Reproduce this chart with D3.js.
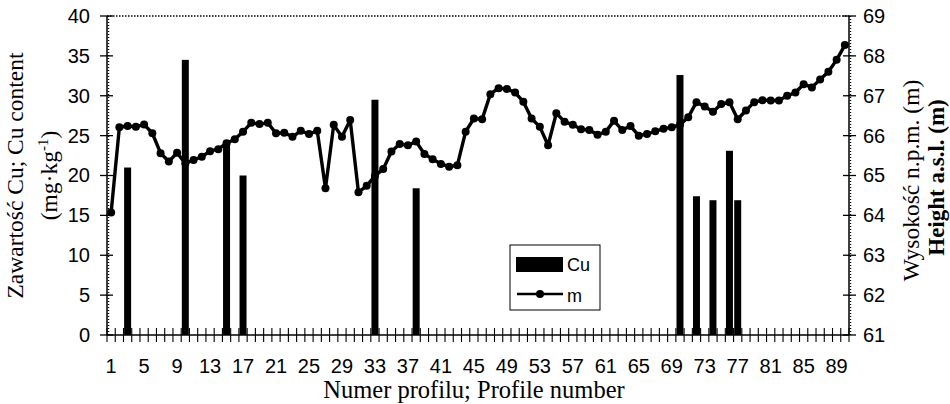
<!DOCTYPE html>
<html>
<head>
<meta charset="utf-8">
<script src="https://cdn.jsdelivr.net/npm/d3@7"></script>
<style>
  html, body { margin: 0; padding: 0; background: #fff; }
  svg { display: block; }
</style>
</head>
<body>
<svg id="chart" width="950" height="404"></svg>
<script>
// ---- DATA ----
const profiles = [1,2,3,4,5,6,7,8,9,10,11,12,13,14,15,16,17,18,19,20,21,22,23,24,25,26,27,28,29,30,
  31,32,33,34,35,36,37,38,39,40,41,42,43,44,45,46,47,48,49,50,51,52,53,54,55,56,57,58,59,60,
  61,62,63,64,65,66,67,68,69,70,71,72,73,74,75,76,77,78,79,80,81,82,83,84,85,86,87,88,89,90];
const xTickLabels = [1,5,9,13,17,21,25,29,33,37,41,45,49,53,57,61,65,69,73,77,81,85,89];
const cuProfiles = [3,10,15,17,33,38,70,72,74,76,77];
const cuValues   = [21.0,34.5,24.3,20.0,29.5,18.4,32.6,17.4,16.9,23.1,16.9];
const heightValues = [
  64.07,66.21,66.24,66.22,66.28,66.06,65.56,65.35,65.57,65.30,
  65.39,65.47,65.61,65.66,65.81,65.91,66.10,66.32,66.29,66.32,
  66.06,66.07,65.97,66.12,66.04,66.12,64.68,66.27,65.97,66.39,
  64.58,64.74,64.99,65.16,65.60,65.79,65.76,65.85,65.54,65.41,
  65.29,65.22,65.26,66.10,66.43,66.41,67.04,67.19,67.17,67.08,
  66.85,66.43,66.22,65.76,66.56,66.35,66.27,66.16,66.14,66.02,
  66.10,66.37,66.14,66.24,66.00,66.04,66.11,66.17,66.21,66.27,
  66.46,66.84,66.73,66.60,66.79,66.84,66.41,66.63,66.84,66.89,
  66.88,66.88,67.00,67.08,67.29,67.21,67.41,67.60,67.90,68.27];
const leftTicks = [0,5,10,15,20,25,30,35,40];
const rightTicks = [61,62,63,64,65,66,67,68,69];

// ---- LAYOUT ----
const X0 = 107, X1 = 849, YT = 16, YB = 335;
const svg = d3.select("#chart");
const x = d3.scaleBand().domain(profiles).range([X0, X1]);
const yL = d3.scaleLinear().domain([0, 40]).range([YB, YT]);
const yR = d3.scaleLinear().domain([61, 69]).range([YB, YT]);
const sans = "'Liberation Sans', Arial, sans-serif";
const serif = "'Liberation Serif', 'Times New Roman', serif";

// top dotted border
svg.append("line").attr("x1", X0).attr("x2", X1).attr("y1", YT).attr("y2", YT)
  .attr("stroke", "#000").attr("stroke-width", 1.4).attr("stroke-dasharray", "1.5,1.5");

// bars
const barW = 7;
svg.append("g").selectAll("rect").data(cuProfiles).join("rect")
  .attr("x", (d) => x(d) + x.bandwidth() / 2 - barW / 2)
  .attr("width", barW)
  .attr("y", (d, i) => yL(cuValues[i]))
  .attr("height", (d, i) => yL(0) - yL(cuValues[i]))
  .attr("fill", "#000");

// left axis
const gL = svg.append("g").attr("transform", `translate(${X0},0)`)
  .call(d3.axisLeft(yL).tickValues(leftTicks).tickSize(0).tickPadding(17).tickFormat(d3.format("d")));
gL.select(".domain").remove();
gL.selectAll("text").attr("font-family", sans).attr("font-size", 20).attr("fill", "#000");
svg.append("line").attr("x1", X0).attr("x2", X0).attr("y1", YT).attr("y2", YB).attr("stroke", "#000").attr("stroke-width", 1.5);
svg.append("line").attr("x1", X0 + 1.5).attr("x2", X0 + 1.5).attr("y1", YT).attr("y2", YB)
  .attr("stroke", "#000").attr("stroke-width", 1.5).attr("stroke-dasharray", "1,2");
svg.append("g").selectAll("line").data(leftTicks).join("line")
  .attr("x1", X0 - 7).attr("x2", X0 + 6).attr("y1", d => yL(d)).attr("y2", d => yL(d))
  .attr("stroke", "#000").attr("stroke-width", 1.3);

// right axis
const gR = svg.append("g").attr("transform", `translate(${X1},0)`)
  .call(d3.axisRight(yR).tickValues(rightTicks).tickSize(0).tickPadding(14).tickFormat(d3.format("d")));
gR.select(".domain").remove();
gR.selectAll("text").attr("font-family", sans).attr("font-size", 20).attr("fill", "#000");
svg.append("line").attr("x1", X1).attr("x2", X1).attr("y1", YT).attr("y2", YB).attr("stroke", "#000").attr("stroke-width", 1.5);
svg.append("line").attr("x1", X1 + 1.5).attr("x2", X1 + 1.5).attr("y1", YT).attr("y2", YB)
  .attr("stroke", "#000").attr("stroke-width", 1.5).attr("stroke-dasharray", "1,2");
svg.append("g").selectAll("line").data(rightTicks).join("line")
  .attr("x1", X1 - 6).attr("x2", X1 + 7).attr("y1", d => yR(d)).attr("y2", d => yR(d))
  .attr("stroke", "#000").attr("stroke-width", 1.3);

// bottom axis
svg.append("line").attr("x1", X0).attr("x2", X1).attr("y1", YB).attr("y2", YB).attr("stroke", "#000").attr("stroke-width", 1.6);
const boundaries = profiles.map(p => x(p)).concat([X1]);
svg.append("g").selectAll("line").data(boundaries).join("line")
  .attr("x1", d => d).attr("x2", d => d).attr("y1", YB - 7).attr("y2", YB + 7)
  .attr("stroke", "#000").attr("stroke-width", 1.1);
svg.append("g").selectAll("text").data(xTickLabels).join("text")
  .attr("x", d => x(d) + x.bandwidth() / 2).attr("y", 373)
  .attr("text-anchor", "middle").attr("font-family", sans).attr("font-size", 20).attr("fill", "#000")
  .text(d => d);

// line m
const line = d3.line().x((d, i) => x(profiles[i]) + x.bandwidth() / 2).y(d => yR(d));
svg.append("path").datum(heightValues).attr("d", line)
  .attr("fill", "none").attr("stroke", "#000").attr("stroke-width", 3.4).attr("stroke-linejoin", "round");
svg.append("g").selectAll("circle").data(heightValues).join("circle")
  .attr("cx", (d, i) => x(profiles[i]) + x.bandwidth() / 2).attr("cy", d => yR(d)).attr("r", 4).attr("fill", "#000");

// axis titles
svg.append("text").attr("transform", `translate(23,${(YT + YB) / 2}) rotate(-90)`)
  .attr("text-anchor", "middle").attr("font-family", serif).attr("font-size", 23.5).attr("fill", "#000")
  .text("Zawartość Cu; Cu content");
const t2 = svg.append("text").attr("transform", `translate(57,${(YT + YB) / 2}) rotate(-90)`)
  .attr("text-anchor", "middle").attr("font-family", serif).attr("font-size", 23.5).attr("fill", "#000");
t2.append("tspan").text("(mg·kg");
t2.append("tspan").attr("font-size", 15).attr("dy", -9).text("-1");
t2.append("tspan").attr("dy", 9).text(")");

svg.append("text").attr("transform", `translate(919,${(YT + YB) / 2 + 5}) rotate(-90)`)
  .attr("text-anchor", "middle").attr("font-family", serif).attr("font-size", 23.5).attr("fill", "#000")
  .text("Wysokość n.p.m. (m)");
svg.append("text").attr("transform", `translate(944,${(YT + YB) / 2 + 2}) rotate(-90)`)
  .attr("text-anchor", "middle").attr("font-family", serif).attr("font-size", 23).attr("font-weight", "bold").attr("fill", "#000")
  .text("Height a.s.l. (m)");
svg.append("text").attr("x", (X0 + X1) / 2 - 4).attr("y", 398)
  .attr("text-anchor", "middle").attr("font-family", serif).attr("font-size", 24.5).attr("fill", "#000")
  .text("Numer profilu; Profile number");

// legend
const lg = svg.append("g");
lg.append("rect").attr("x", 510).attr("y", 245).attr("width", 90).attr("height", 65)
  .attr("fill", "#fff").attr("stroke", "#000").attr("stroke-width", 1);
lg.append("rect").attr("x", 516).attr("y", 257).attr("width", 47).attr("height", 15).attr("fill", "#000");
lg.append("text").attr("x", 567).attr("y", 265).attr("dominant-baseline", "central")
  .attr("font-family", sans).attr("font-size", 18).attr("fill", "#000").text("Cu");
lg.append("line").attr("x1", 517).attr("x2", 563).attr("y1", 294).attr("y2", 294).attr("stroke", "#000").attr("stroke-width", 2.6);
lg.append("circle").attr("cx", 540).attr("cy", 294).attr("r", 4).attr("fill", "#000");
lg.append("text").attr("x", 567).attr("y", 296).attr("dominant-baseline", "central")
  .attr("font-family", sans).attr("font-size", 18).attr("fill", "#000").text("m");
</script>
</body>
</html>
